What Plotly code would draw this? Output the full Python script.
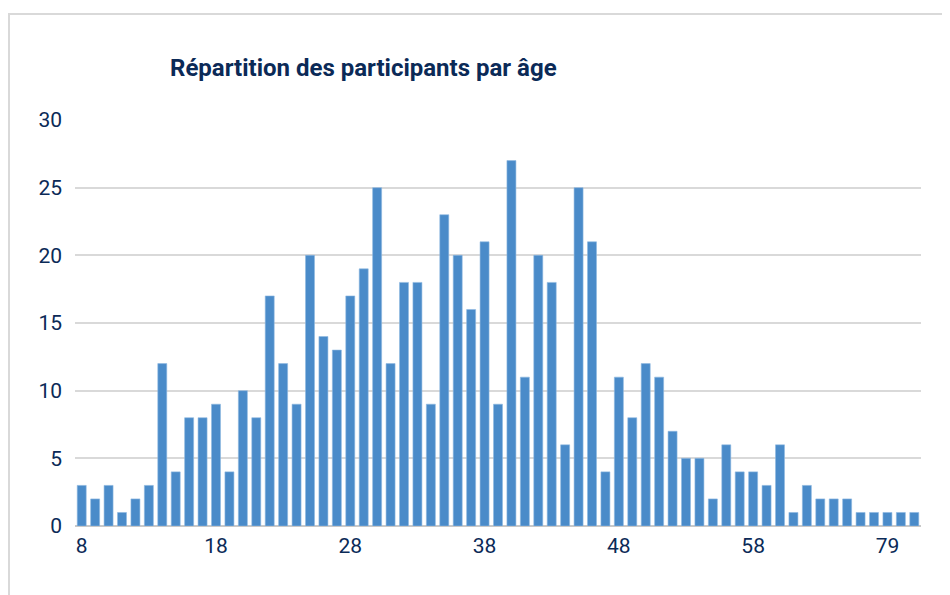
import plotly.graph_objects as go

ages = [str(a) for a in range(8, 59)] + ["59", "60", "61", "62", "63", "64", "65", "67", "72", "79", "81", "85"]
counts = [3, 2, 3, 1, 2, 3, 12, 4, 8, 8,
          9, 4, 10, 8, 17, 12, 9, 20, 14, 13,
          17, 19, 25, 12, 18, 18, 9, 23, 20, 16,
          21, 9, 27, 11, 20, 18, 6, 25, 21, 4,
          11, 8, 12, 11, 7, 5, 5, 2, 6, 4,
          4, 3, 6, 1, 3, 2, 2, 2, 1, 1,
          1, 1, 1]
tick_ages = ["8", "18", "28", "38", "48", "58", "79"]
title = "Répartition des participants par âge"

navy = "#0b2a57"
font_fam = "Liberation Sans Narrow, Roboto, Arial, sans-serif"

# page body has an 8px margin; figure is sized to fill the rest of the window
W, H = 942, 587
L, T, R, B = 67, 112, 29, 69
pw, ph = W - L - R, H - T - B

fig = go.Figure(go.Bar(
    x=ages, y=counts,
    marker=dict(color="#4a8bc9", line=dict(color="#8fb8e0", width=0.6)),
))

fig.update_layout(
    width=W, height=H,
    margin=dict(l=L, r=R, t=T, b=B),
    paper_bgcolor="white", plot_bgcolor="white",
    bargap=0.33,
    showlegend=False,
    title=dict(text="<b>" + title + "</b>", x=162 / W, xanchor="left",
               y=1 - 60 / H, yanchor="middle",
               font=dict(family=font_fam, size=24, color=navy)),
    xaxis=dict(type="category", categoryorder="array", categoryarray=ages,
               tickmode="array", tickvals=tick_ages, ticktext=tick_ages,
               showgrid=False, ticks="", showline=False, zeroline=False,
               range=[-0.5, len(ages) - 0.5], ticklabelstandoff=5,
               tickfont=dict(family=font_fam, size=21, color=navy)),
    yaxis=dict(range=[0, 30], tickvals=[0, 5, 10, 15, 20, 25, 30],
               showgrid=True, gridcolor="#d9d9d9", gridwidth=2,
               zeroline=True, zerolinecolor="#c8c8c8", zerolinewidth=2,
               ticks="", ticklabelstandoff=12,
               tickfont=dict(family=font_fam, size=21, color=navy)),
    shapes=[dict(type="rect", xref="paper", yref="paper",
                 x0=(1 - L) / pw, x1=1.2, y0=-0.3, y1=1 + (T - 6) / ph,
                 line=dict(color="#d9d9d9", width=2), layer="below")],
)

fig.write_html("out.html")
